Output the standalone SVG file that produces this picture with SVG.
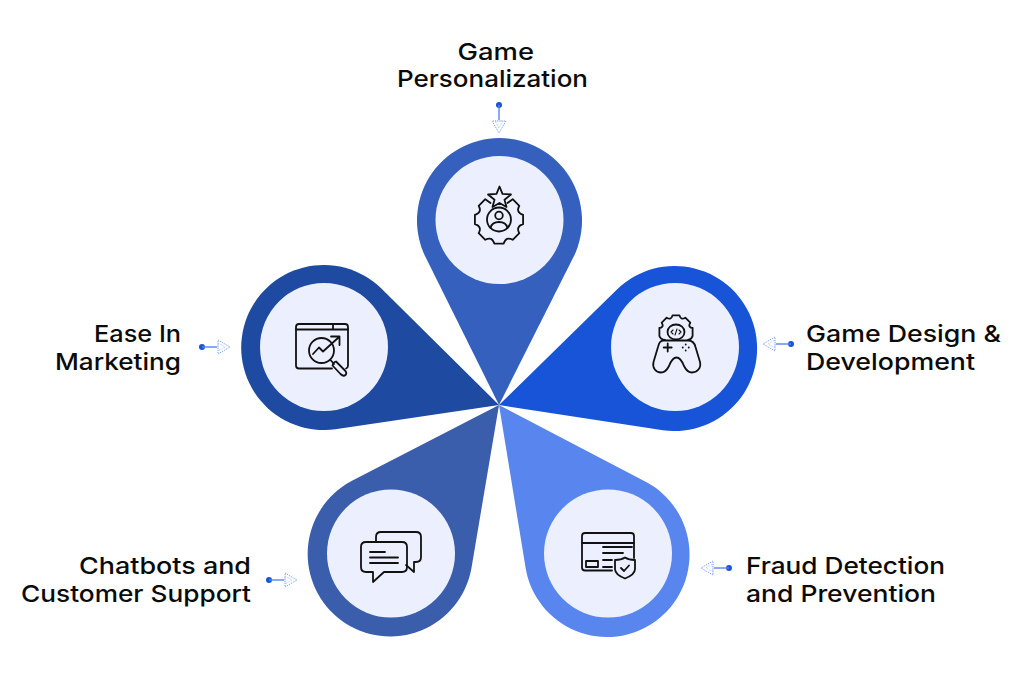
<svg xmlns="http://www.w3.org/2000/svg" xmlns:xlink="http://www.w3.org/1999/xlink" width="1024" height="675" viewBox="0 0 1024 675">
<style>
.lbl{font-family:"Inter","Liberation Sans",sans-serif;font-weight:500;font-size:23.5px;fill:#0b0b0b}
.in{fill:#ecf0fe}
.ic{fill:none;stroke:#111;stroke-width:1.8;stroke-linecap:round;stroke-linejoin:round}
</style>
<defs>
<path id="pin" d="M499 405L425.400 256.800A82.500 82.500 0 1 1 573.600 256.800Z"/>
<g id="conn">
<circle cx="0" cy="0" r="3" fill="#1754d8"/>
<path d="M0 0H15" stroke="#5885ee" stroke-width="1.4" fill="none"/>
<path d="M16 -7L28 0L16 7Z" fill="none" stroke="#7d9ff0" stroke-width="1" stroke-dasharray="1.200 1"/>
<path d="M16 -4L23 0L16 4Z" fill="none" stroke="#a9c0f5" stroke-width="0.900" stroke-dasharray="1 1"/>
</g>
</defs>
<rect width="1024" height="675" fill="#fff"/>
<g id="connectors">
<use xlink:href="#conn" href="#conn" transform="translate(499 105) rotate(90)"/>
<use xlink:href="#conn" href="#conn" transform="translate(791 344) rotate(180)"/>
<use xlink:href="#conn" href="#conn" transform="translate(729 568) rotate(180)"/>
<use xlink:href="#conn" href="#conn" transform="translate(269 580)"/>
<use xlink:href="#conn" href="#conn" transform="translate(202 347)"/>
</g>
<g id="node-personalization">
<use xlink:href="#pin" href="#pin" fill="#3560be"/>
<circle class="in" cx="499.500" cy="220" r="64"/>
<g class="ic">
<path d="M499.500 186.500L502.500 193.800L511 194.500L504.500 199.800L506.500 207L499.500 203L492.500 207L494.500 199.800L488 194.500L496.500 193.800Z"/>
<circle cx="499" cy="219.500" r="12"/>
<circle cx="499" cy="215.500" r="3.800"/>
<path d="M490.500 228C491.500 223.500 495 222 499 222C503 222 506.500 223.500 507.500 228"/>
<path d="M507.500 203L512.700 199.200L519.300 205.800Q515.600 212.600 523.100 214.800L523.100 224.200Q515.600 226.400 519.300 233.200L512.700 239.800Q505.900 236.100 503.700 243.600L494.300 243.600Q492.100 236.100 485.300 239.800L478.700 233.200Q482.400 226.400 474.900 224.200L474.900 214.800Q482.400 212.600 478.700 205.800L485.300 199.200L490.500 203"/>
</g>
</g>
<g id="node-design">
<use xlink:href="#pin" href="#pin" transform="rotate(72 499 405)" fill="#1754d8"/>
<circle class="in" cx="675" cy="347" r="64"/>
<g class="ic">
<ellipse cx="676" cy="332" rx="8.500" ry="7.500"/>
<path d="M665 340Q660.500 339.500 659.400 336L659.400 328Q664.500 327.200 661.700 322.700L666.700 317.700Q671.200 320.500 672.500 315.400L679.500 315.400Q680.800 320.500 685.300 317.700L690.300 322.700Q687.500 327.200 692.600 328L692.600 336Q691.500 339.500 688 340"/>
<path d="M664 340.500H688C692 340.500 694.500 343 695.500 347L700 362C701.500 368 697 372.500 692 372.500C688 372.500 686 370 684 366C682 361 680 357.500 676.500 357.500C673 357.500 671 361 669 366C667 370 665 372.500 661 372.500C656 372.500 652 368 653.500 362L658 347C659 343 660 340.500 664 340.500Z"/>
<path d="M667.700 343.500V351.500M663.700 347.500H671.700"/>
<path d="M685.700 344.500V344.600M685.700 350.500V350.600M682.700 347.500H682.800M688.700 347.500H688.800"/>
<path d="M673 330L671 332L673 334M679 330L681 332L679 334M677 329L675 335" stroke-width="1.100"/>
</g>
</g>
<g id="node-fraud">
<use xlink:href="#pin" href="#pin" transform="rotate(144 499 405)" fill="#5885ee"/>
<circle class="in" cx="608" cy="553.500" r="64"/>
<g class="ic">
<path d="M612 570.500H585C583 570.500 582 569.500 582 567.500V536C582 534 583 533 585 533H631C633 533 634 534 634 536V558"/>
<path d="M582 543H634M603 547H632M603 553H623M603 560H612M603 567H612"/>
<rect x="586" y="561" width="12" height="6"/>
<path d="M625 557.500C628 559.500 632 560 635 560V569C635 573 630 576.500 625 578.500C620 576.500 615 573 615 569V560C618 560 622 559.500 625 557.500Z"/>
<path d="M621 568L624 571L629 565.500"/>
</g>
</g>
<g id="node-chatbots">
<use xlink:href="#pin" href="#pin" transform="rotate(216 499 405)" fill="#3a5dac"/>
<circle class="in" cx="391" cy="553.500" r="64"/>
<g class="ic">
<path d="M376 542V537C376 534 378 532 381 532H416C419 532 421 534 421 537V557C421 560 419 562 416 562H414V572L406 565"/>
<path d="M366 542H402C405 542 407 544 407 547V567C407 570 405 572 402 572H384L373 582V572H366C363 572 361 570 361 567V547C361 544 363 542 366 542Z"/>
<path d="M370 552H385M370 557.500H398M370 563H398"/>
</g>
</g>
<g id="node-marketing">
<use xlink:href="#pin" href="#pin" transform="rotate(288 499 405)" fill="#1e4aa2"/>
<circle class="in" cx="324" cy="347" r="64"/>
<g class="ic">
<path d="M332 368.500H299C297 368.500 296 367.500 296 365.500V327C296 325 297 324 299 324H345C347 324 348 325 348 327V365.500C348 367 347.500 368 346 368.500"/>
<path d="M296 329.500H348M333 324V329.500"/>
<circle cx="321.500" cy="350.500" r="12.500"/>
<path d="M313 354L319 347.500L323 351.500L338.500 337.500M331 336.500H339.500V345"/>
<path d="M330.500 360L334 364"/>
<path d="M336 361.500L344.500 370C346.500 372 346.500 374 345.500 375C344.500 376 342.500 376 340.500 374L332.500 365.500C333 363.500 334 362 336 361.500Z"/>
</g>
</g>
<g id="labels">
<text class="lbl" x="457.500" y="60" textLength="76.500" lengthAdjust="spacingAndGlyphs">Game</text>
<text class="lbl" x="397" y="87" textLength="191" lengthAdjust="spacingAndGlyphs">Personalization</text>
<text class="lbl" x="806" y="342" textLength="195" lengthAdjust="spacingAndGlyphs">Game Design &amp;</text>
<text class="lbl" x="806" y="370" textLength="169" lengthAdjust="spacingAndGlyphs">Development</text>
<text class="lbl" x="94" y="342" textLength="87" lengthAdjust="spacingAndGlyphs">Ease In</text>
<text class="lbl" x="55" y="370" textLength="126" lengthAdjust="spacingAndGlyphs">Marketing</text>
<text class="lbl" x="79" y="574" textLength="172" lengthAdjust="spacingAndGlyphs">Chatbots and</text>
<text class="lbl" x="21" y="602" textLength="230" lengthAdjust="spacingAndGlyphs">Customer Support</text>
<text class="lbl" x="746" y="574" textLength="199" lengthAdjust="spacingAndGlyphs">Fraud Detection</text>
<text class="lbl" x="746" y="602" textLength="190" lengthAdjust="spacingAndGlyphs">and Prevention</text>
</g>
</svg>
